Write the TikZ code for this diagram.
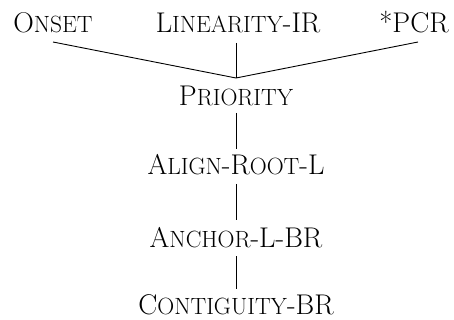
\documentclass[tikz,border=0pt]{standalone}
\newcommand\smcp[1]{{\fontsize{23.5}{26}\selectfont #1}}
\begin{document}
\begin{tikzpicture}[x=1pt,y=-1pt,
  lbl/.style={inner sep=0pt, anchor=base, font=\fontsize{28.5}{32}\selectfont},
  link/.style={line width=0.9pt, black}]
\useasboundingbox (0,0) rectangle (454,320);
\node[lbl] (onset) at (53,33) {O\smcp{NSET}};
\node[lbl] (lin) at (238,33) {L\smcp{INEARITY}-IR};
\node[lbl] (pcr) at (414,33) {*PCR};
\coordinate (j) at (236,78);
\coordinate (onsetend) at (53,42);
\coordinate (linend) at (236,43);
\coordinate (pcrend) at (418,42);
\node[lbl] (prio) at (236,106) {P\smcp{RIORITY}};
\node[lbl] (align) at (236,175) {A\smcp{LIGN}-R\smcp{OOT}-L};
\node[lbl] (anchor) at (236,247) {A\smcp{NCHOR}-L-BR};
\node[lbl] (cont) at (236,314.5) {C\smcp{ONTIGUITY}-BR};
\draw[link] (onsetend) -- (j) -- (pcrend);
\draw[link] (linend) -- (j);
\draw[link] (236,113) coordinate (p1) -- (236,149) coordinate (a0);
\draw[link] (236,184) coordinate (a1) -- (236,220) coordinate (n0);
\draw[link] (236,256) coordinate (n1) -- (236,289) coordinate (c0);
\end{tikzpicture}
\end{document}
